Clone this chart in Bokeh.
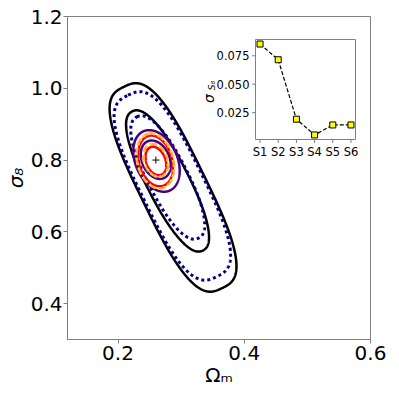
import numpy as np
from bokeh.plotting import figure
from bokeh.models import Range1d, FixedTicker, PrintfTickFormatter
from bokeh.core.properties import value
from bokeh.embed import file_html
from bokeh.resources import INLINE

# ---------------- data ----------------
surveys = ["S1", "S2", "S3", "S4", "S5", "S6"]
sigma_s8 = [0.0853, 0.0715, 0.0192, 0.0053, 0.0141, 0.0141]
fid_om = [0.26]
fid_s8 = [0.80]

# contours, per survey (2-sigma, then 1-sigma):
# centre (Omega_m, sigma_8), semi-axes along / across the degeneracy
# (in sigma_8 units), tilt of the long axis from vertical (deg), squareness
c2_om = [0.2872, 0.2861, 0.2610, 0.2595, 0.2591, 0.2591]
c2_s8 = [0.7237, 0.7279, 0.7975, 0.7975, 0.7974, 0.7974]
A2 = [0.312, 0.2813, 0.0903, 0.0724, 0.0780, 0.0775]
B2 = [0.0919, 0.0877, 0.0582, 0.0460, 0.0501, 0.0498]
th2 = [26, 26, 24, 16, 15, 15]
n2 = [3.0, 3.0, 2.0, 2.0, 2.0, 2.0]
c1_om = [0.2785, 0.2788, 0.2598, 0.2600, 0.2598, 0.2598]
c1_s8 = [0.7418, 0.7515, 0.8010, 0.7974, 0.7990, 0.7990]
A1 = [0.2173, 0.1894, 0.0560, 0.0412, 0.0474, 0.0470]
B1 = [0.0585, 0.0557, 0.0384, 0.0267, 0.0320, 0.0318]
th1 = [27, 27, 24, 21, 20, 20]
n1 = [2.3, 2.3, 2.0, 2.0, 2.0, 2.0]

x_ticks = [0.2, 0.4, 0.6]
y_ticks = [0.4, 0.6, 0.8, 1.0, 1.2]
inset_y_ticks = [0.025, 0.050, 0.075]
inset_y_labels = ["0.025", "0.050", "0.075"]

# ---------------- styles ----------------
colors = ["black", "#00008b", "#4b0082", "red", "#ffa07a", "#ffd700"]
dashes = ["solid", "3 3", "solid", "solid", "7 3", "2 3"]
widths = [2.5, 3.0, 2.5, 2.5, 2.5, 2.5]
GRAY = "#808080"
FONT = "DejaVu Sans"

X0, X1, Y0, Y1 = 0.12, 0.6, 0.3, 1.2
FW, FH = 303, 323  # main frame size in px
p = figure(frame_width=FW, frame_height=FH,
           x_range=Range1d(X0, X1), y_range=Range1d(Y0, Y1),
           output_backend="svg", toolbar_location=None,
           min_border_left=63, min_border_right=17,
           min_border_top=16, min_border_bottom=50)
p.background_fill_color = "white"
p.border_fill_color = "white"
p.outline_line_color = GRAY
p.xgrid.visible = False
p.ygrid.visible = False
p.xaxis.ticker = FixedTicker(ticks=x_ticks)
p.yaxis.ticker = FixedTicker(ticks=y_ticks)
p.axis.formatter = PrintfTickFormatter(format="%.1f")
p.axis.major_label_text_font = FONT
p.axis.major_label_text_font_size = "20px"
p.axis.major_label_text_color = "black"
p.axis.major_label_text_line_height = 1.0
p.axis.axis_line_color = GRAY
p.axis.major_tick_line_color = GRAY
p.axis.minor_tick_line_color = None
p.axis.major_tick_out = 4
p.axis.major_tick_in = 0
p.yaxis.major_label_standoff = 1
p.xaxis.major_label_standoff = 2
p.xaxis.axis_label = "Ωₘ"
p.yaxis.axis_label = "σ₈"
p.axis.axis_label_text_font = FONT
p.axis.axis_label_text_font_size = "20px"
p.axis.axis_label_text_color = "black"
p.axis.axis_label_text_line_height = 1.0
p.xaxis.axis_label_text_font_style = "normal"
p.yaxis.axis_label_text_font_style = "italic"
p.axis.axis_label_standoff = 0

# ratio converting a sigma_8-unit displacement into the same on-screen Omega_m displacement
k = (FH / (Y1 - Y0)) / (FW / (X1 - X0))
s = np.linspace(0, 2 * np.pi, 400)


def contour(cx, cy, A, B, th_deg, n):
    e = 2.0 / n
    Cs = np.sign(np.cos(s)) * np.abs(np.cos(s)) ** e
    Ss = np.sign(np.sin(s)) * np.abs(np.sin(s)) ** e
    th = np.radians(th_deg)
    X = -A * Cs * np.sin(th) + B * Ss * np.cos(th)
    Y = A * Cs * np.cos(th) + B * Ss * np.sin(th)
    return cx + X * k, cy + Y


for i in range(len(surveys)):
    for prm in [(c2_om[i], c2_s8[i], A2[i], B2[i], th2[i], n2[i]),
                (c1_om[i], c1_s8[i], A1[i], B1[i], th1[i], n1[i])]:
        xs, ys = contour(*prm)
        p.line(xs, ys, line_color=colors[i], line_width=widths[i],
               line_dash=dashes[i])

p.scatter(fid_om, fid_s8, marker="cross", size=7, line_color="black", line_width=1)

# ---------------- inset ----------------
n = len(surveys)
ix = list(range(n))
ix0 = -0.05 * (n - 1)
ix1 = (n - 1) * 1.05
span = max(sigma_s8) - min(sigma_s8)
iy0 = min(sigma_s8) - 0.05 * span
iy1 = max(sigma_s8) + 0.05 * span

IL, IT, IW, IH = 188, 23, 100, 100  # inset frame position within main frame (px)
xpu = IW / (ix1 - ix0)
ypu = IH / (iy1 - iy0)
sx = ix0 - IL / xpu
sy = iy0 - (FH - IT - IH) / ypu
p.extra_x_ranges = {"ix": Range1d(sx, sx + FW / xpu)}
p.extra_y_ranges = {"iy": Range1d(sy, sy + FH / ypu)}
kw = dict(x_range_name="ix", y_range_name="iy")

p.quad(left=[ix0], right=[ix1], bottom=[iy0], top=[iy1], fill_color="white",
       line_color=GRAY, line_width=1, **kw)
p.line(ix, sigma_s8, line_color="black", line_width=1.2, line_dash="4 2", **kw)
p.scatter(ix, sigma_s8, marker="square", size=6, fill_color="yellow",
          line_color="black", line_width=1, **kw)

tick_len = 3.5
p.segment(x0=[ix0] * 3, y0=inset_y_ticks, x1=[ix0 - tick_len / xpu] * 3,
          y1=inset_y_ticks, line_color=GRAY, line_width=1, **kw)
p.segment(x0=ix, y0=[iy0] * n, x1=ix, y1=[iy0 - tick_len / ypu] * n,
          line_color=GRAY, line_width=1, **kw)
p.text(x=[ix0] * 3, y=inset_y_ticks, text=inset_y_labels, x_offset=-6,
       text_align="right", text_baseline="middle", text_font=value(FONT),
       text_font_size="11.5px", text_color="black", **kw)
p.text(x=ix, y=[iy0] * n, text=surveys, y_offset=5, text_align="center",
       text_baseline="top", text_font=value(FONT), text_font_size="11.5px",
       text_color="black", **kw)
ymid = (iy0 + iy1) / 2
p.text(x=[ix0], y=[ymid], text=["σ"], x_offset=-47, y_offset=9, angle=np.pi / 2,
       text_align="center", text_baseline="middle", text_font=value(FONT),
       text_font_size="14px", text_font_style="italic", text_color="black", **kw)
p.text(x=[ix0], y=[ymid], text=["S₈"], x_offset=-44, y_offset=-4, angle=np.pi / 2,
       text_align="center", text_baseline="middle", text_font=value(FONT),
       text_font_size="9px", text_font_style="italic", text_color="black", **kw)

open("out.html", "w").write(file_html(p, INLINE))
